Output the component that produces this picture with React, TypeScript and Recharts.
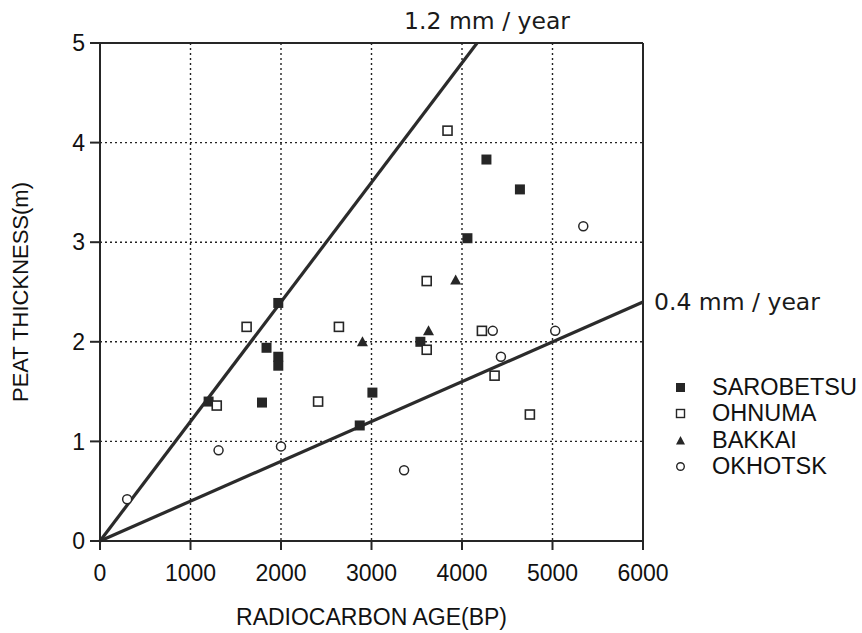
import {
  ScatterChart,
  Scatter,
  XAxis,
  YAxis,
  CartesianGrid,
  ReferenceLine,
  ReferenceDot,
} from "recharts";

// radiocarbon age (BP) and peat thickness (m) per site
const sarobetsuAge = [1200, 1790, 1840, 1970, 1970, 1970, 2870, 3010, 3540, 4060, 4270, 4640];
const sarobetsuDepth = [1.4, 1.39, 1.94, 2.39, 1.85, 1.76, 1.16, 1.49, 2.0, 3.04, 3.83, 3.53];

const ohnumaAge = [1290, 1620, 2410, 2640, 3610, 3610, 3840, 4220, 4360, 4750];
const ohnumaDepth = [1.36, 2.15, 1.4, 2.15, 2.61, 1.92, 4.12, 2.11, 1.66, 1.27];

const bakkaiAge = [2900, 3630, 3930];
const bakkaiDepth = [2.0, 2.11, 2.62];

const okhotskAge = [300, 1310, 2000, 3360, 4340, 4430, 5030, 5340];
const okhotskDepth = [0.42, 0.91, 0.95, 0.71, 2.11, 1.85, 2.11, 3.16];

const ageTicks = [0, 1000, 2000, 3000, 4000, 5000, 6000];
const depthTicks = [0, 1, 2, 3, 4, 5];

// accumulation rates drawn as lines (mm / year)
const fastRate = 1.2;
const slowRate = 0.4;

const AGE_MAX = 6000;
const DEPTH_MAX = 5;

const INK = "#262626";
const FONT = "'Liberation Sans', Arial, sans-serif";
const LINE_FONT = "'DejaVu Sans', Verdana, sans-serif";

const toPoints = (ages: number[], depths: number[]) =>
  ages.map((age, i) => ({ age, depth: depths[i] }));

const FilledSquare = (p: any) => (
  <rect x={p.cx - 5} y={p.cy - 5} width={10} height={10} fill={INK} />
);
const OpenSquare = (p: any) => (
  <rect
    x={p.cx - 4.5}
    y={p.cy - 4.5}
    width={9}
    height={9}
    fill="#fff"
    stroke={INK}
    strokeWidth={1.6}
  />
);
const Triangle = (p: any) => (
  <polygon
    points={`${p.cx},${p.cy - 5.5} ${p.cx + 5.5},${p.cy + 4.5} ${p.cx - 5.5},${p.cy + 4.5}`}
    fill={INK}
  />
);
const OpenCircle = (p: any) => (
  <circle cx={p.cx} cy={p.cy} r={4.5} fill="#fff" stroke={INK} strokeWidth={1.5} />
);

const legendItems = [
  { name: "SAROBETSU", icon: <rect x={2} y={2} width={9} height={9} fill={INK} /> },
  {
    name: "OHNUMA",
    icon: <rect x={2.5} y={2.5} width={8} height={8} fill="#fff" stroke={INK} strokeWidth={1.4} />,
  },
  { name: "BAKKAI", icon: <polygon points="6.5,2 11,10.5 2,10.5" fill={INK} /> },
  {
    name: "OKHOTSK",
    icon: <circle cx={6.5} cy={6.5} r={3.8} fill="#fff" stroke={INK} strokeWidth={1.4} />,
  },
];

function SiteLegend() {
  return (
    <div
      style={{
        position: "absolute",
        left: 674,
        top: 374,
        fontFamily: FONT,
        fontSize: 23.5,
        color: "#111",
      }}
    >
      {legendItems.map((item) => (
        <div
          key={item.name}
          style={{ display: "flex", alignItems: "center", height: 26.5 }}
        >
          <svg width={13} height={13} style={{ marginRight: 25 }}>
            {item.icon}
          </svg>
          <span>{item.name}</span>
        </div>
      ))}
    </div>
  );
}

const YTitle = () => (
  <text
    x={20}
    y={292}
    transform="rotate(-90 20 292)"
    textAnchor="middle"
    dominantBaseline="central"
    fontFamily={FONT}
    fontSize={22}
    fill="#111"
  >
    PEAT THICKNESS(m)
  </text>
);

export default function App() {
  return (
    <div style={{ position: "absolute", left: 0, top: 0, width: 862, height: 633, background: "#fff" }}>
      <ScatterChart
        width={862}
        height={633}
        margin={{ top: 43, right: 219, bottom: 0, left: 0 }}
      >
        <CartesianGrid
          stroke="#222"
          strokeWidth={1.4}
          strokeDasharray="2 3"
          horizontalValues={depthTicks}
          verticalValues={ageTicks}
        />
        <XAxis
          type="number"
          dataKey="age"
          domain={[0, AGE_MAX]}
          ticks={ageTicks}
          interval={0}
          height={92}
          tickSize={9}
          tickMargin={15}
          stroke={INK}
          strokeWidth={2}
          tick={{ fill: "#111", fontSize: 23, fontFamily: FONT }}
          label={{
            value: "RADIOCARBON AGE(BP)",
            position: "insideBottom",
            offset: 8,
            fill: "#111",
            fontSize: 23,
            fontFamily: FONT,
          }}
        />
        <YAxis
          type="number"
          dataKey="depth"
          domain={[0, DEPTH_MAX]}
          ticks={depthTicks}
          interval={0}
          width={100}
          tickSize={10}
          tickMargin={5}
          stroke={INK}
          strokeWidth={2}
          tick={{ fill: "#111", fontSize: 23, fontFamily: FONT }}
          label={<YTitle />}
        />
        <ReferenceLine y={DEPTH_MAX} stroke={INK} strokeWidth={2} />
        <ReferenceLine x={AGE_MAX} stroke={INK} strokeWidth={2} />
        <ReferenceLine
          segment={[
            { x: 0, y: 0 },
            { x: (DEPTH_MAX / fastRate) * 1000, y: DEPTH_MAX },
          ]}
          stroke="#2b2b2b"
          strokeWidth={3.2}
        />
        <ReferenceLine
          segment={[
            { x: 0, y: 0 },
            { x: AGE_MAX, y: (AGE_MAX * slowRate) / 1000 },
          ]}
          stroke="#2b2b2b"
          strokeWidth={3.2}
        />
        <ReferenceDot
          x={(DEPTH_MAX / fastRate) * 1000}
          y={DEPTH_MAX}
          r={0}
          fill="none"
          stroke="none"
          label={{
            value: `${fastRate} mm / year`,
            position: "top",
            offset: 14,
            dx: 10,
            fill: "#1a1a1a",
            fontSize: 23.5,
            fontFamily: LINE_FONT,
          }}
        />
        <ReferenceDot
          x={AGE_MAX}
          y={(AGE_MAX * slowRate) / 1000}
          r={0}
          fill="none"
          stroke="none"
          label={{
            value: `${slowRate} mm / year`,
            position: "right",
            offset: 11,
            fill: "#1a1a1a",
            fontSize: 23.5,
            fontFamily: LINE_FONT,
          }}
        />
        <Scatter
          name="SAROBETSU"
          data={toPoints(sarobetsuAge, sarobetsuDepth)}
          shape={FilledSquare}
          isAnimationActive={false}
        />
        <Scatter
          name="OHNUMA"
          data={toPoints(ohnumaAge, ohnumaDepth)}
          shape={OpenSquare}
          isAnimationActive={false}
        />
        <Scatter
          name="BAKKAI"
          data={toPoints(bakkaiAge, bakkaiDepth)}
          shape={Triangle}
          isAnimationActive={false}
        />
        <Scatter
          name="OKHOTSK"
          data={toPoints(okhotskAge, okhotskDepth)}
          shape={OpenCircle}
          isAnimationActive={false}
        />
      </ScatterChart>
      <SiteLegend />
    </div>
  );
}
